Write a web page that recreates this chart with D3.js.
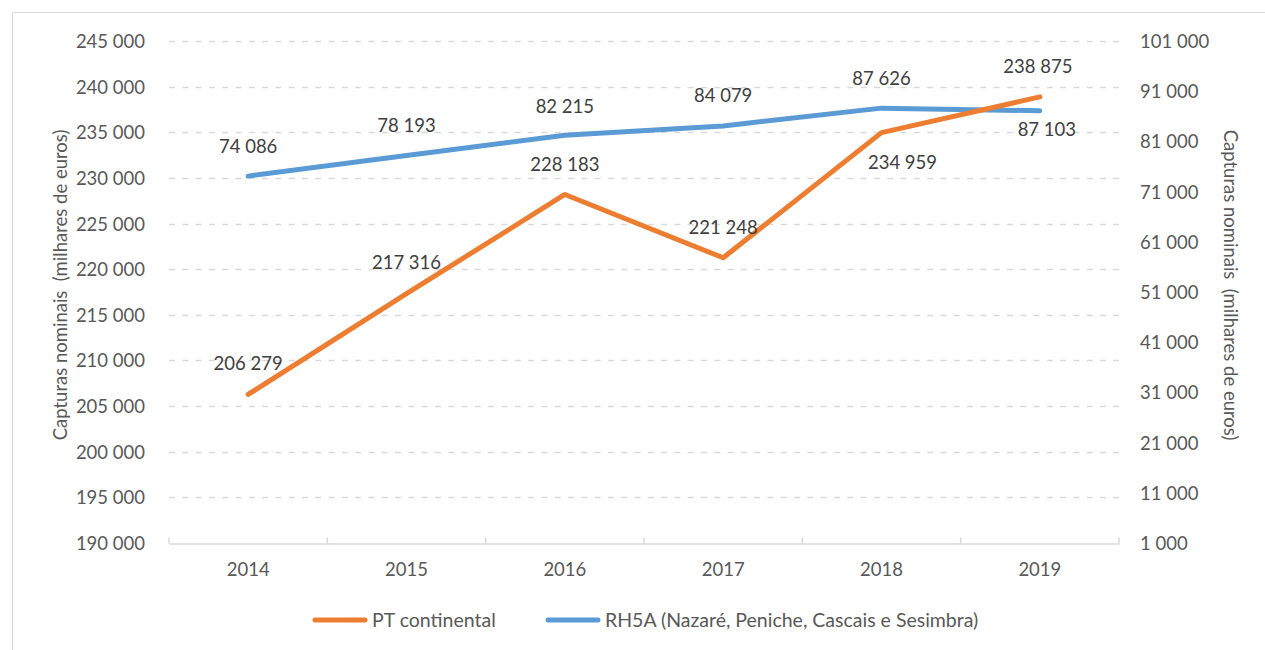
<!DOCTYPE html>
<html>
<head>
<meta charset="utf-8">
<script src="https://cdn.jsdelivr.net/npm/d3@7"></script>
<style>
  html, body { margin: 0; padding: 0; background: #ffffff; }
  svg { display: block; font-family: Lato, "Open Sans", sans-serif; }
  .axis-title { white-space: pre; }
</style>
</head>
<body>
<svg id="chart" width="1265" height="650"></svg>
<script>
// Years on the category axis
const years = ["2014", "2015", "2016", "2017", "2018", "2019"];
// Nominal catches, thousands of euros
const ptContinental = [206279, 217316, 228183, 221248, 234959, 238875];
const rh5a = [74086, 78193, 82215, 84079, 87626, 87103];
// Tick values for both value axes
const leftTicks = [190000, 195000, 200000, 205000, 210000, 215000, 220000, 225000, 230000, 235000, 240000, 245000];
const rightTicks = [1000, 11000, 21000, 31000, 41000, 51000, 61000, 71000, 81000, 91000, 101000];
const seriesNames = ["PT continental", "RH5A (Nazaré, Peniche, Cascais e Sesimbra)"];
const axisTitle = "Capturas nominais  (milhares de euros)";

const svg = d3.select("#chart");
const plot = { left: 169, right: 1119, top: 41, bottom: 543 };
const orange = "#ED7D31", blue = "#5B9BD5";
const axisText = "#595959", labelText = "#404040", gridColor = "#d9d9d9";

const fmt = v => d3.format(",")(v).replace(/,/g, " ");

// Chart frame
svg.append("rect")
  .attr("x", 12.5).attr("y", 12.5)
  .attr("width", 1270).attr("height", 660)
  .attr("fill", "none").attr("stroke", "#d9d9d9").attr("stroke-width", 1);

const x = d3.scaleBand().domain(years).range([plot.left, plot.right]);
const yL = d3.scaleLinear().domain([190000, 245000]).range([plot.bottom, plot.top]);
const yR = d3.scaleLinear().domain([1000, 101000]).range([plot.bottom, plot.top]);

// Dashed horizontal gridlines
svg.append("g")
  .selectAll("line")
  .data(leftTicks.filter(t => t > 190000))
  .join("line")
  .attr("x1", plot.left).attr("x2", plot.right)
  .attr("y1", d => Math.round(yL(d)) + 0.5).attr("y2", d => Math.round(yL(d)) + 0.5)
  .attr("stroke", gridColor).attr("stroke-width", 1.5)
  .attr("stroke-dasharray", "6,7.3");

// Left value axis
const gL = svg.append("g")
  .attr("transform", `translate(${plot.left - 21},0)`)
  .call(d3.axisLeft(yL).tickValues(leftTicks).tickFormat(fmt).tickSize(0));
gL.select(".domain").remove();
gL.selectAll("text")
  .attr("fill", axisText).attr("font-size", 18.5).attr("font-family", "Lato")
  .attr("dy", "0.35em");

// Right value axis
const gR = svg.append("g")
  .attr("transform", `translate(${plot.right + 21},0)`)
  .call(d3.axisRight(yR).tickValues(rightTicks).tickFormat(fmt).tickSize(0));
gR.select(".domain").remove();
gR.selectAll("text")
  .attr("fill", axisText).attr("font-size", 18.5).attr("font-family", "Lato")
  .attr("x", 0).attr("dy", "0.35em");

// Category axis: baseline with inward tick marks at band edges
const gX = svg.append("g")
  .attr("transform", `translate(0,${plot.bottom + 0.5})`)
  .call(d3.axisBottom(x).tickSize(0).tickPadding(26));
gX.select(".domain").attr("stroke", gridColor).attr("stroke-width", 1.5);
gX.selectAll("text")
  .attr("fill", axisText).attr("font-size", 18.5).attr("font-family", "Lato")
  .attr("dy", "0.35em");
const edges = years.map(d => x(d)).concat([x(years[years.length - 1]) + x.bandwidth()]);
gX.append("g").selectAll("line")
  .data(edges)
  .join("line")
  .attr("x1", d => d).attr("x2", d => d)
  .attr("y1", -6).attr("y2", 0)
  .attr("stroke", gridColor).attr("stroke-width", 1.5);

// Axis titles
svg.append("text")
  .attr("class", "axis-title")
  .attr("transform", `translate(67,${(plot.top + plot.bottom) / 2 - 7}) rotate(-90)`)
  .attr("text-anchor", "middle")
  .attr("fill", axisText).attr("font-size", 18.5)
  .text(axisTitle);
svg.append("text")
  .attr("class", "axis-title")
  .attr("transform", `translate(1224,${(plot.top + plot.bottom) / 2 - 7}) rotate(90)`)
  .attr("text-anchor", "middle")
  .attr("fill", axisText).attr("font-size", 18.5)
  .text(axisTitle);

const cx = d => x(d) + x.bandwidth() / 2;

// Series lines
const lineL = d3.line().x((d, i) => cx(years[i])).y(d => yL(d));
const lineR = d3.line().x((d, i) => cx(years[i])).y(d => yR(d));

svg.append("path")
  .datum(rh5a)
  .attr("d", lineR)
  .attr("fill", "none").attr("stroke", blue).attr("stroke-width", 5)
  .attr("stroke-linecap", "round").attr("stroke-linejoin", "round");

svg.append("path")
  .datum(ptContinental)
  .attr("d", lineL)
  .attr("fill", "none").attr("stroke", orange).attr("stroke-width", 5)
  .attr("stroke-linecap", "round").attr("stroke-linejoin", "round");

// Data label placement relative to each point (dx, dy)
const ptLabelShift = [[0, -31], [0, -31], [0, -30], [0, -30], [21, 30], [-2, -30]];
const rhLabelShift = [[0, -30], [0, -30], [0, -29], [0, -30], [0, -30], [7, 19]];

function addLabels(values, yScale, shifts) {
  svg.append("g")
    .selectAll("text")
    .data(values)
    .join("text")
    .attr("x", (d, i) => cx(years[i]) + shifts[i][0])
    .attr("y", (d, i) => yScale(d) + shifts[i][1])
    .attr("dy", "0.35em")
    .attr("text-anchor", "middle")
    .attr("fill", labelText).attr("font-size", 18.5)
    .text(d => fmt(d));
}
addLabels(rh5a, yR, rhLabelShift);
addLabels(ptContinental, yL, ptLabelShift);

// Legend
const legend = [
  { name: seriesNames[0], color: orange, x0: 313 },
  { name: seriesNames[1], color: blue, x0: 546 }
];
const lg = svg.append("g").attr("transform", "translate(0,620)");
lg.selectAll("line")
  .data(legend)
  .join("line")
  .attr("x1", d => d.x0 + 2).attr("x2", d => d.x0 + 52)
  .attr("y1", 0).attr("y2", 0)
  .attr("stroke", d => d.color).attr("stroke-width", 5)
  .attr("stroke-linecap", "round");
lg.selectAll("text")
  .data(legend)
  .join("text")
  .attr("x", d => d.x0 + 59)
  .attr("y", 0).attr("dy", "0.35em")
  .attr("fill", axisText).attr("font-size", 19.5)
  .text(d => d.name);
</script>
</body>
</html>
